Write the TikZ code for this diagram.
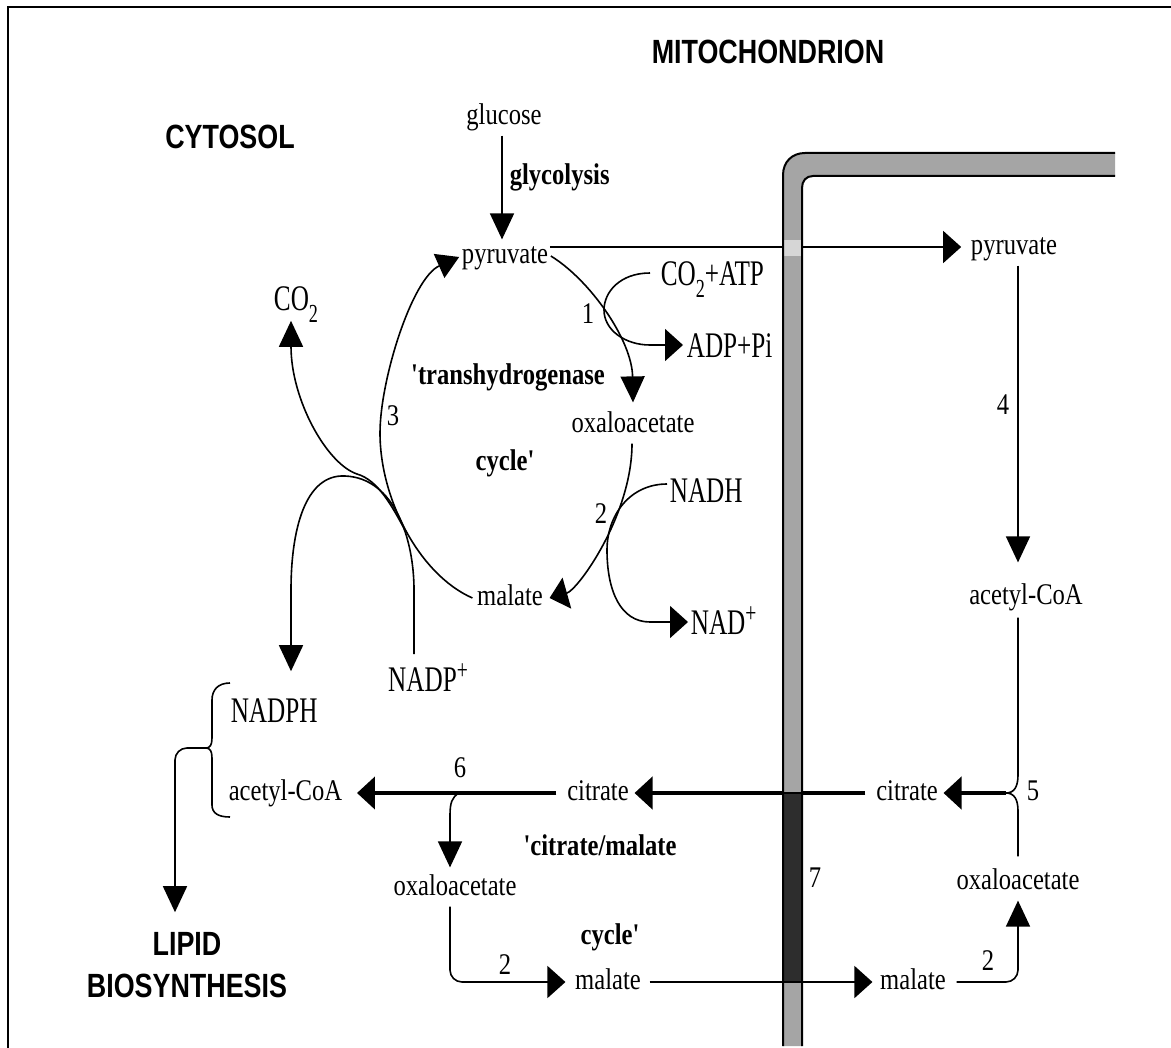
\documentclass[tikz,border=0pt]{standalone}
\usepackage{fontspec}
\usetikzlibrary{arrows.meta,calc}
\newfontfamily\lblserif[FakeStretch=0.82]{Liberation Serif}
\newfontfamily\lblform[FakeStretch=0.7]{Liberation Serif}
\newfontfamily\lblsans[FakeStretch=0.8]{Liberation Sans}
\newcommand\subtwo{\raisebox{-6pt}{\fontsize{13}{13}\selectfont 2}}
\newcommand\supplus{\raisebox{6pt}{\fontsize{14}{14}\selectfont +}}
\definecolor{memgray}{RGB}{165,165,165}
\definecolor{transp}{RGB}{45,45,45}
\begin{document}
\begin{tikzpicture}[x=0.5pt,y=-0.5pt,line width=0.8pt,
  txt/.style={font=\lblserif\fontsize{15}{18}\selectfont,inner sep=0pt,text height=10.5pt,text depth=3.3pt},
  btxt/.style={txt,font=\lblserif\bfseries\fontsize{15}{18}\selectfont},
  num/.style={txt},
  frm/.style={font=\lblform\fontsize{18}{20}\selectfont,inner sep=0pt,text height=12pt,text depth=0pt},
  head/.style={font=\lblsans\bfseries\fontsize{16.8}{20}\selectfont,inner sep=0pt,text height=12pt,text depth=0pt},
  hh/.style={-{Triangle[length=9pt,width=16pt]}},
  vh/.style={-{Triangle[length=13pt,width=12pt]}},
  dh/.style={-{Triangle[length=11pt,width=13pt]}},
  thk/.style={line width=2.2pt}]
\useasboundingbox (0,0) rectangle (1171,1048);
% frame
\draw[line width=1pt] (8,1048) -- (8,7) -- (1171,7);

% helper columns
\coordinate (gx) at (502,0);
\coordinate (c4) at (1018,0);
\coordinate (c6) at (450,0);
\coordinate (c2x) at (291,0);
\coordinate (cn) at (414,0);
\coordinate (cl) at (175,0);

% headings
\node[head] (mito) at (768,52) {MITOCHONDRION};
\node[head] (cyto) at (230,137) {CYTOSOL};
\node[head] (lip1) at (187,943) {LIPID};
\node[head] (lip2) at (187,985) {BIOSYNTHESIS};

% cytosol cycle
\node[txt] (glc) at (504,117) {glucose};
\node[btxt,anchor=west] (glyc) at (509,177) {glycolysis};
\node[txt] (pyr1) at (505,256) {pyruvate};
\node[txt] (oaa1) at (633,425) {oxaloacetate};
\node[txt] (mal1) at (510,598) {malate};
\node[btxt] (thg) at (508,377) {'transhydrogenase};
\node[btxt] (cyc1) at (505,463) {cycle'};
\node[num] (n1) at (588,316) {1};
\node[num] (n2a) at (601,516) {2};
\node[num] (n3) at (393,418) {3};
\node[frm,anchor=west] (co2atp) at (660,273) {CO\subtwo+ATP};
\node[frm,anchor=west] (adp) at (686,345) {ADP+Pi};
\node[frm,anchor=west] (nadh) at (669,490) {NADH};
\node[frm,anchor=west] (nad) at (690,622) {NAD\supplus};
\node[frm] (co2) at (296,298) {CO\subtwo};
\node[frm] (nadpp) at (428,679) {NADP\supplus};
\node[frm,anchor=west] (nadph) at (230,710) {NADPH};

% citrate/malate cycle
\node[txt,anchor=west] (acoa1) at (228,793) {acetyl-CoA};
\node[num] (n6) at (460,770) {6};
\node[txt] (cit1) at (598,793) {citrate};
\node[btxt] (cm1) at (600,848) {'citrate/malate};
\node[btxt] (cm2) at (610,937) {cycle'};
\node[txt] (oaa2) at (455,888) {oxaloacetate};
\node[num] (n2b) at (505,967) {2};
\node[txt] (mal2) at (608,982) {malate};
\node[num] (n7) at (815,880) {7};

% mitochondrion
\node[txt] (pyr2) at (1014,247) {pyruvate};
\node[num] (n4) at (1003,407) {4};
\node[txt] (acoa2) at (1026,597) {acetyl-CoA};
\node[txt] (cit2) at (907,793) {citrate};
\node[num] (n5) at (1033,793) {5};
\node[txt] (oaa3) at (1018,882) {oxaloacetate};
\node[txt] (mal3) at (913,982) {malate};
\node[num] (n2c) at (988,963) {2};

% glycolysis arrow
\draw[vh] ($(glc.south -| gx)+(0,4)$) -- ($(pyr1.north -| gx)+(0,-2)$);
% pyruvate transport
\draw[hh] ($(pyr1.east)+(1,-9)$) -- ($(pyr2.west)+(-9,0)$);
% reaction 4
\draw[vh] ($(pyr2.south -| c4)+(0,4)$) -- ($(acoa2.north -| c4)+(0,-20)$);
% reaction 5
\coordinate (b5) at (1006,793);
\draw ($(acoa2.south -| c4)+(0,6)$) -- (1018,775) .. controls (1018,787) and (1014,793) .. (b5);
\draw ($(oaa3.north -| c4)+(0,-11)$) -- (1018,811) .. controls (1018,799) and (1014,793) .. (b5);
% citrate export
\draw[thk,hh] (b5) -- ($(cit2.east)+(5,0)$);
\draw[thk,hh] ($(cit2.west)+(-10,0)$) -- ($(cit1.east)+(5,0)$);
\draw[thk,hh] ($(cit1.west)+(-10,0)$) -- ($(acoa1.east)+(14,0)$);
% reaction 6 branch
\coordinate (b6) at (459,793);
\draw[vh] (b6) .. controls (452,797) and (450,803) .. (450,815) -- ($(oaa2.north -| c6)+(0,-6)$);
% oaa -> malate (cytosol)
\draw[hh,rounded corners=6pt] ($(oaa2.south -| c6)+(0,4)$) |- ($(mal2.west)+(-9,0)$);
% malate import
\draw[hh] ($(mal2.east)+(8,0)$) -- ($(mal3.west)+(-7,0)$);
% malate -> oaa (mito)
\draw[vh,rounded corners=6pt] ($(mal3.east)+(10,0)$) -| ($(oaa3.south -| c4)+(0,4)$);

% transhydrogenase cycle
\draw[vh] ($(pyr1.east)+(2,0)$) .. controls (590,280) and (632,340) .. ($(oaa1.north)+(0,-8)$);
\draw[hh] ($(oaa1.south)+(-1,4)$) .. controls (632,515) and (578,590) .. ($(mal1.east)+(6,0)$);
\draw[dh] ($(mal1.west)+(-4,0)$) .. controls (420,575) and (380,500) .. (380,433) .. controls (380,380) and (412,278) .. ($(pyr1.west)+(-2,1)$);
% CO2 release
\coordinate (bc2) at (406,532);
\draw[vh] (bc2) .. controls (392,506) and (378,480) .. (357,474) .. controls (327,464) and (291,400) .. ($(co2.south -| c2x)+(0,10)$);
% NADP+ -> NADPH
\draw[vh] ($(nadpp.north -| cn)+(0,-12)$) -- (414,590) .. controls (414,540) and (395,478) .. (345,476) .. controls (305,474) and (291,530) .. (291,590) -- ($(nadph.north -| c2x)+(0,-26)$);
% reaction 1 side
\draw[hh] ($(co2atp.west)+(-10,0)$) .. controls (620,273) and (604,292) .. (604,310) .. controls (604,330) and (625,345) .. (650,345) -- ($(adp.west)+(-3,0)$);
% reaction 2 side
\draw[hh] ($(nadh.west)+(-2,-6)$) .. controls (630,484) and (607,515) .. (607,550) .. controls (607,590) and (620,622) .. (650,622) -- ($(nad.west)+(-2,0)$);

% brace and lipid biosynthesis
\coordinate (bc) at (206,748);
\draw (230,683) .. controls (218,683) and (212,690) .. (212,700) -- (212,738) .. controls (212,745) and (210,748) .. (bc) .. controls (210,748) and (212,751) .. (212,758) -- (212,805) .. controls (212,813) and (218,817) .. (230,817);
\draw[vh,rounded corners=6pt] (bc) -| ($(lip1.north -| cl)+(0,-18)$);

% membrane
\fill[memgray] (783,1046) -- (783,175) .. controls (783,162) and (792,153) .. (805,153) -- (1115,153) -- (1115,176) -- (813,176) .. controls (806,176) and (802,181) .. (802,188) -- (802,1046) -- cycle;
\fill[memgray!45!white] (783,240) rectangle (802,256);
\filldraw[fill=transp,draw=black,line width=1pt] (783,793) rectangle (802,982);
\draw[line width=1pt] (783,1046) -- (783,175) .. controls (783,162) and (792,153) .. (805,153) -- (1115,153);
\draw[line width=1pt] (802,1046) -- (802,188) .. controls (802,181) and (806,176) .. (813,176) -- (1115,176);
\end{tikzpicture}
\end{document}
